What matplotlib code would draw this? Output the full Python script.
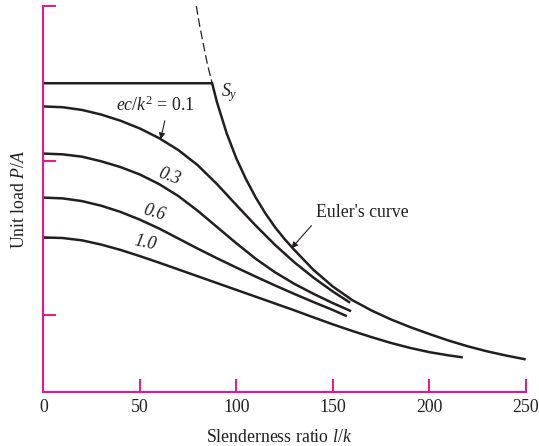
import matplotlib
matplotlib.use("Agg")
import matplotlib.pyplot as plt

# ---------------- data ----------------
x_ticks = [0, 50, 100, 150, 200, 250]
y_ticks = [10, 20, 30, 40, 50]

sy_value = 40.0
sy_x = [0.0, 87.5]

euler_x = [87.5, 90, 95, 100, 105, 110, 115, 120, 125, 130, 140, 150, 160,
           170, 180, 190, 200, 210, 220, 230, 240, 250]
euler_y = [40.0, 37.55, 33.55, 30.3, 27.6, 25.25, 23.2, 21.4, 19.85, 18.45, 15.85,
           13.7, 11.95, 10.6, 9.45, 8.45, 7.55, 6.7, 5.95, 5.3, 4.75, 4.26]

euler_dash_x = [79.3, 81.0, 83.0, 85.0, 87.5]
euler_dash_y = [50.0, 47.5, 45.0, 42.5, 40.0]

ecc_labels = ["0.1", "0.3", "0.6", "1.0"]

c01_x = [0, 10, 20, 30, 40, 50, 60, 70, 80, 90, 100, 110, 120, 130, 140, 150, 159]
c01_y = [37.0, 36.9, 36.55, 35.95, 35.15, 34.15, 32.9, 31.35, 29.4, 26.95, 24.25,
         21.6, 19.1, 16.85, 14.85, 13.05, 11.6]

c03_x = [0, 10, 20, 30, 40, 50, 60, 70, 80, 90, 100, 110, 120, 130, 140, 150, 159.5]
c03_y = [30.9, 30.8, 30.5, 29.9, 29.15, 28.2, 26.95, 25.4, 23.5, 21.4, 19.3, 17.3,
         15.55, 14.05, 12.75, 11.55, 10.5]

c06_x = [0, 10, 20, 30, 40, 50, 60, 70, 80, 90, 100, 110, 120, 130, 140, 150, 157.3]
c06_y = [25.2, 25.1, 24.75, 24.15, 23.35, 22.35, 21.2, 19.9, 18.6, 17.35, 16.15,
         14.98, 13.84, 12.74, 11.68, 10.66, 9.85]

c10_x = [0, 10, 20, 30, 40, 50, 60, 70, 80, 90, 100, 110, 120, 130, 140, 150, 160,
         170, 180, 190, 200, 210, 217.4]
c10_y = [20.05, 19.97, 19.67, 19.12, 18.43, 17.63, 16.78, 15.9, 15.02, 14.14, 13.26,
         12.38, 11.5, 10.62, 9.7, 8.8, 7.95, 7.15, 6.4, 5.75, 5.2, 4.78, 4.52]

# ---------------- style ----------------
plt.rcParams["font.family"] = ["Liberation Serif", "DejaVu Serif"]
plt.rcParams["mathtext.fontset"] = "custom"
plt.rcParams["mathtext.rm"] = "Liberation Serif"
plt.rcParams["mathtext.it"] = "Liberation Serif:italic"
plt.rcParams["mathtext.bf"] = "Liberation Serif:bold"

MAGENTA = "#E8168B"
INK = "#231F20"
FS = 12.8
LW = 1.8

W, H = 539, 446
fig = plt.figure(figsize=(W / 100, H / 100), dpi=100)
x0, x1, yb, yt = 43.3, 525.7, 392.3, 6.0
ax = fig.add_axes([x0 / W, (H - yb) / H, (x1 - x0) / W, (yb - yt) / H])
ax.set_xlim(0, 250)
ax.set_ylim(0, 50)

for s in ("top", "right"):
    ax.spines[s].set_visible(False)
for s in ("left", "bottom"):
    ax.spines[s].set_color(MAGENTA)
    ax.spines[s].set_linewidth(1.5)

ax.set_xticks(x_ticks)
ax.set_yticks(y_ticks)
ax.tick_params(axis="both", direction="in", length=9.4, width=1.4, color=MAGENTA)
ax.tick_params(axis="x", pad=5, labelsize=FS, labelcolor=INK)
ax.tick_params(axis="y", labelleft=False)

# ---------------- curves ----------------
ax.plot(euler_dash_x, euler_dash_y, color=INK, lw=0.9, linestyle=(0, (7, 3)),
        clip_on=False)
ax.plot(sy_x + euler_x, [sy_value, sy_value] + euler_y, color=INK, lw=LW,
        solid_joinstyle="miter", solid_capstyle="butt")
for cx, cy in [(c01_x, c01_y), (c03_x, c03_y), (c06_x, c06_y), (c10_x, c10_y)]:
    ax.plot(cx, cy, color=INK, lw=LW, solid_capstyle="butt",
            solid_joinstyle="round")

# ---------------- annotations ----------------
ax.text(92.3, 38.8, r"$S_y$", fontsize=FS, color=INK, ha="left", va="center")

ax.annotate(r"$ec/k^2$ = " + ecc_labels[0], xy=(60.8, 32.75), xytext=(57.9, 37.1),
            fontsize=FS, color=INK, ha="center", va="center",
            arrowprops=dict(arrowstyle="-|>", lw=0.8, color=INK, mutation_scale=9,
                            shrinkA=2, shrinkB=0, relpos=(0.64, 0.0)))

ax.text(65.2, 27.9, ecc_labels[1], fontsize=FS, style="italic", color=INK,
        rotation=-20, ha="center", va="center", rotation_mode="anchor")
ax.text(57.4, 23.2, ecc_labels[2], fontsize=FS, style="italic", color=INK,
        rotation=-16, ha="center", va="center", rotation_mode="anchor")
ax.text(52.7, 19.4, ecc_labels[3], fontsize=FS, style="italic", color=INK,
        rotation=-12, ha="center", va="center", rotation_mode="anchor")

ax.annotate("Euler's curve", xy=(128.6, 18.65), xytext=(165.2, 23.3),
            fontsize=FS, color=INK, ha="center", va="center",
            arrowprops=dict(arrowstyle="-|>", lw=0.8, color=INK, mutation_scale=9,
                            shrinkA=2, shrinkB=0, relpos=(0.0, 0.0)))

fig.text(19.5 / W, 1 - 199 / H, "Unit load $P/A$", rotation=90, fontsize=FS,
         color=INK, ha="center", va="center")
fig.text(279 / W, 1 - 437 / H, "Slenderness ratio $l/k$", fontsize=FS,
         color=INK, ha="center", va="center")

fig.savefig("out.png", dpi=100)
